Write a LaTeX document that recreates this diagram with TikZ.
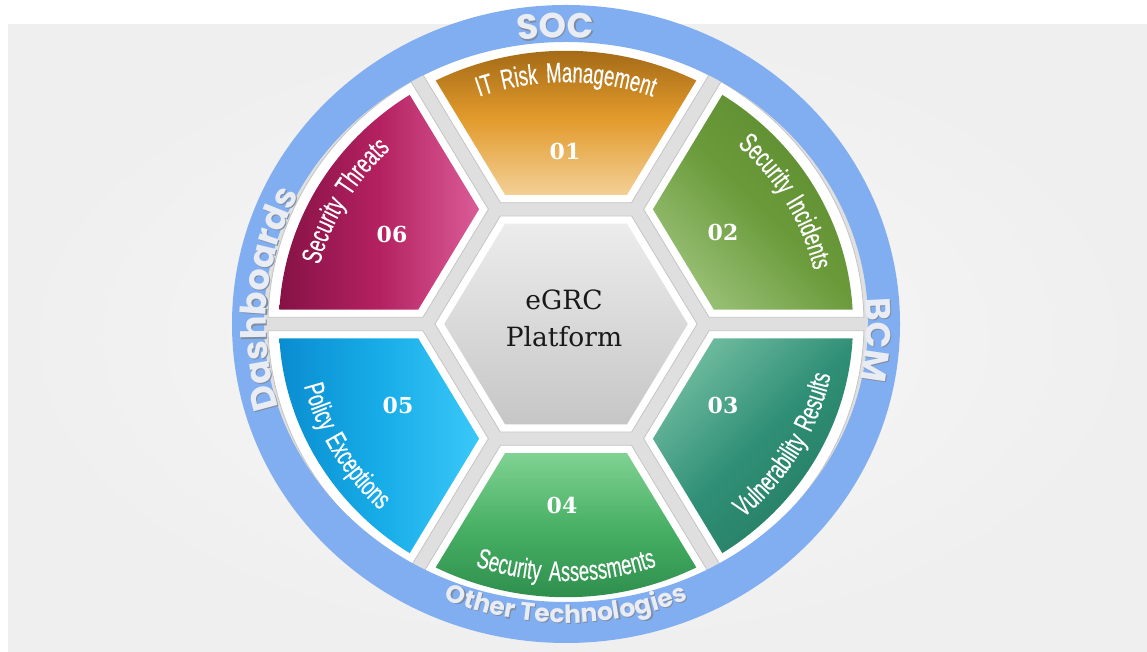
\documentclass[tikz,border=0pt]{standalone}
\usepackage{fontspec}
\usetikzlibrary{decorations.text}
\newfontfamily\condfont[FakeStretch=0.66, FakeBold=0.4, WordSpace=1.6]{Liberation Sans}
\newfontfamily\numfont{DejaVu Serif}
\newfontfamily\hexfont{DejaVu Serif}
\newfontfamily\ringfont{Poppins}
\definecolor{bgout}{HTML}{EFEFEF}
\definecolor{bgin}{HTML}{F8F8F8}
\definecolor{ringblue}{HTML}{80AEF1}
\definecolor{ringtext}{HTML}{E9ECF2}
\definecolor{ringshadow}{HTML}{7D8DA6}
\definecolor{gapgray}{HTML}{DFDFDF}
\definecolor{framegray}{HTML}{C4C4C4}
\definecolor{sAa}{HTML}{9B6414}\definecolor{sAb}{HTML}{E29A2B}\definecolor{sAc}{HTML}{F3D096}
\definecolor{sBa}{HTML}{5C8C2E}\definecolor{sBb}{HTML}{6A9A3A}\definecolor{sBc}{HTML}{98C075}
\definecolor{sCa}{HTML}{6DBA9E}\definecolor{sCb}{HTML}{2F8F76}\definecolor{sCc}{HTML}{247B61}
\definecolor{sDa}{HTML}{80D292}\definecolor{sDb}{HTML}{46AF63}\definecolor{sDc}{HTML}{2B8A4A}
\definecolor{sEa}{HTML}{0A8DD0}\definecolor{sEb}{HTML}{17ACE8}\definecolor{sEc}{HTML}{3AC8F8}
\definecolor{sFa}{HTML}{861246}\definecolor{sFb}{HTML}{B42160}\definecolor{sFc}{HTML}{DA5C97}
\definecolor{hexTop}{HTML}{ECECEC}\definecolor{hexBot}{HTML}{C6C6C6}
\newcommand{\segframe}[1]{(#1-27.2:143.3) -- (#1-28.65:298) arc[start angle=#1-28.65, end angle=#1+28.65, radius=298] -- (#1+27.2:143.3) -- cycle}
\newcommand{\segfill}[1]{(#1-24.2:148.6) -- (#1-27:287) arc[start angle=#1-27, end angle=#1+27, radius=287] -- (#1+24.2:148.6) -- cycle}
\newcommand{\segfont}{\condfont\fontsize{28}{28}\selectfont}
\newcommand{\ringbig}{\ringfont\bfseries\fontsize{35}{35}\selectfont}
\newcommand{\ringsmall}{\ringfont\bfseries\fontsize{25}{25}\selectfont}
\tikzset{
  frame/.style={fill=white, draw=framegray, line width=0.8pt},
  numtext/.style={text=white, font=\numfont\bfseries\fontsize{22}{22}\selectfont, inner sep=0pt},
  segtext/.style={decorate, decoration={text along path, text align=center, text color=white, text={|\segfont|#1}}},
  ringlab/.style={decorate, decoration={text along path, text align=center, text color=ringtext, text={|\ringbig|#1}}},
  ringlabsh/.style={decorate, decoration={text along path, text align=center, text color=ringshadow, text={|\ringbig|#1}}},
  ringlabs/.style={decorate, decoration={text along path, text align=center, text color=ringtext, text={|\ringsmall|#1}}},
  ringlabssh/.style={decorate, decoration={text along path, text align=center, text color=ringshadow, text={|\ringsmall|#1}}},
}
\begin{document}
\begin{tikzpicture}[x=1pt,y=1pt]
\useasboundingbox (0,0) rectangle (1147,652);
\fill[white] (0,0) rectangle (1147,652);
\shade[inner color=bgin, outer color=bgout] (8,0) rectangle (1147,627);

\begin{scope}[shift={(566,328)}, yscale=0.952]
  % gap background
  \fill[gapgray] (0,0) circle[radius=303];
  % frames
  \foreach \a in {90,30,-30,-90,-150,150} { \filldraw[frame] \segframe{\a}; }
  \filldraw[frame] (0:131.1) -- (60:131.1) -- (120:131.1) -- (180:131.1) -- (240:131.1) -- (300:131.1) -- cycle;
  % coloured fills
  \shade[top color=sAa, bottom color=sAc, middle color=sAb] \segfill{90};
  \shade[top color=sBa, bottom color=sBc, middle color=sBb, shading angle=-45] \segfill{30};
  \shade[top color=sCa, bottom color=sCc, middle color=sCb, shading angle=45] \segfill{-30};
  \shade[top color=sDa, bottom color=sDc, middle color=sDb] \segfill{-90};
  \shade[left color=sEa, right color=sEc, middle color=sEb] \segfill{-150};
  \shade[left color=sFa, right color=sFc, middle color=sFb] \segfill{150};
  \shade[top color=hexTop, bottom color=hexBot] (0:121.8) -- (60:121.8) -- (120:121.8) -- (180:121.8) -- (240:121.8) -- (300:121.8) -- cycle;
  % curved segment titles
  \path[segtext={IT Risk Management}] (120:254) arc[start angle=120, end angle=60, radius=254];
  \path[segtext={Security Incidents}] (60:254) arc[start angle=60, end angle=0, radius=254];
  \path[segtext={Vulnerability Results}] (-60:270) arc[start angle=-60, end angle=0, radius=270];
  \path[segtext={Security Assessments}] (-120:270) arc[start angle=-120, end angle=-60, radius=270];
  \path[segtext={Policy Exceptions}] (180:270) arc[start angle=180, end angle=240, radius=270];
  \path[segtext={Security Threats}] (180:254) arc[start angle=180, end angle=120, radius=254];
\end{scope}

% outer blue ring
\fill[ringblue, even odd rule] (566,328) ellipse[x radius=334, y radius=319] (566,330) ellipse[x radius=302, y radius=280];

\begin{scope}[shift={(566,328)}, yscale=0.955]
  \begin{scope}[xshift=1.2pt, yshift=-1.2pt]
    \path[ringlabsh={SOC}] (132:300) arc[start angle=132, end angle=52, radius=300];
    \path[ringlabsh={BCM}] (37:300) arc[start angle=37, end angle=-43, radius=300];
    \path[ringlabsh={Dashboards}] (215:300) arc[start angle=215, end angle=135, radius=300];
    \path[ringlabssh={Other Technologies}] (-150:313) arc[start angle=-150, end angle=-30, radius=313];
  \end{scope}
  \path[ringlab={SOC}] (132:300) arc[start angle=132, end angle=52, radius=300];
  \path[ringlab={BCM}] (37:300) arc[start angle=37, end angle=-43, radius=300];
  \path[ringlab={Dashboards}] (215:300) arc[start angle=215, end angle=135, radius=300];
  \path[ringlabs={Other Technologies}] (-150:313) arc[start angle=-150, end angle=-30, radius=313];
\end{scope}

% numbers
\node[numtext] (n1) at (565,500) {01};
\node[numtext] (n2) at (723,419) {02};
\node[numtext] (n3) at (723,247) {03};
\node[numtext] (n4) at (562,147) {04};
\node[numtext] (n5) at (398,247) {05};
\node[numtext] (n6) at (392,418) {06};

% centre label
\node[anchor=base, align=center, inner sep=0pt, text=black!90, font=\hexfont\fontsize{26.5}{37}\selectfont] (core) at (564,305) {eGRC\\Platform};
\end{tikzpicture}
\end{document}
